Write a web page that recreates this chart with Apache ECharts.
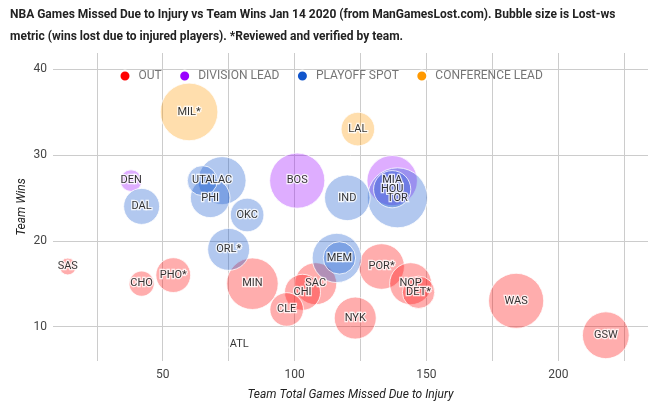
<!DOCTYPE html>
<html>
<head>
<meta charset="utf-8">
<script src="https://cdn.jsdelivr.net/npm/echarts@6/dist/echarts.min.js"></script>
<style>html,body{margin:0;padding:0;background:#fff;}#c{width:661px;height:408px;}</style>
</head>
<body>
<div id="c"></div>
<script>
// ---- data ----
const teams       = ['MIL*','LAL','DEN','DAL','UTA','LAC','PHI','OKC','ORL*','SAS','CHO','PHO*','MIN','ATL','BOS','IND','MIA','HOU','TOR','','MEM','POR*','NOP','DET*','SAC','CHI','CLE','NYK','WAS','GSW'];
const gamesMissed = [60,124,38,42,65,72.5,68,82,75,14,42,54,84,79,101,120,137,137,139,116,117,133,144,147,108,103,97,123,184,218];
const wins        = [35,33,27,24,27,27,25,23,19,17,15,16,15,8,27,25,27,26,25,18,18,17,15,14,15,14,12,11,13,9];
const lostWs      = [4.8,2.8,1.8,3.0,2.5,4.0,3.3,2.8,3.5,1.4,2.1,2.9,4.3,0.1,4.6,3.8,4.2,3.1,5.0,4.1,2.7,3.8,3.5,2.7,3.5,3.0,2.8,3.5,4.6,3.9];
const status      = ['CONFERENCE LEAD','CONFERENCE LEAD','DIVISION LEAD','PLAYOFF SPOT','PLAYOFF SPOT','PLAYOFF SPOT','PLAYOFF SPOT','PLAYOFF SPOT','PLAYOFF SPOT','OUT','OUT','OUT','OUT','OUT','DIVISION LEAD','PLAYOFF SPOT','DIVISION LEAD','PLAYOFF SPOT','PLAYOFF SPOT','PLAYOFF SPOT','PLAYOFF SPOT','OUT','OUT','OUT','OUT','OUT','OUT','OUT','OUT','OUT'];
const categories  = ['OUT','DIVISION LEAD','PLAYOFF SPOT','CONFERENCE LEAD'];
const catColors   = ['#ff0000','#9900ff','#1155cc','#ff9900'];
const bubbleFill  = ['rgba(255,0,0,0.4)','rgba(153,0,255,0.4)','rgba(17,85,204,0.4)','rgba(255,153,0,0.4)'];
const xTicks      = [25,50,75,100,125,150,175,200,225];
const xLabels     = [50,100,150,200];
const yTicks      = [10,20,30,40];

const font = 'Roboto, "Noto Sans", sans-serif';

const series = categories.map((cat, ci) => {
  const pts = [];
  teams.forEach((t, i) => {
    if (status[i] === cat) pts.push({ value: [gamesMissed[i], wins[i], lostWs[i]], name: t });
  });
  pts.sort((a, b) => b.value[2] - a.value[2]);
  return {
    name: cat,
    type: 'scatter',
    data: pts,
    symbolSize: v => 12 * v[2],
    itemStyle: { color: bubbleFill[ci], borderColor: '#ffffff', borderWidth: 1 },
    label: {
      show: true, position: 'inside', formatter: p => p.name,
      color: '#000', fontSize: 11, fontFamily: font,
      textBorderColor: '#fff', textBorderWidth: 2.5
    },
    emphasis: { disabled: true },
    animation: false
  };
});

const chart = echarts.init(document.getElementById('c'), null, { renderer: 'canvas' });
chart.setOption({
  animation: false,
  backgroundColor: '#ffffff',
  title: {
    text: 'NBA Games Missed Due to Injury vs Team Wins Jan 14 2020 (from ManGamesLost.com). Bubble size is Lost-ws\nmetric (wins lost due to injured players). *Reviewed and verified by team.',
    left: 10, top: 4, padding: 0,
    textStyle: { fontFamily: font, fontSize: 12, fontWeight: 'bold', color: '#222', lineHeight: 22 }
  },
  legend: {
    left: 118.5, top: 69.5, padding: 0,
    itemWidth: 11, itemHeight: 11, itemGap: 16.5,
    icon: 'circle',
    data: categories.map((c, i) => ({ name: c, itemStyle: { color: catColors[i], opacity: 1 } })),
    textStyle: { fontFamily: font, fontSize: 12, color: '#757575', padding: [0, 0, 0, 3] }
  },
  grid: { left: 53, top: 53, right: 13, bottom: 47, containLabel: false },
  xAxis: {
    type: 'value', min: 8.4, max: 234,
    name: 'Team Total Games Missed Due to Injury', nameLocation: 'middle', nameGap: 28,
    nameMoveOverlap: false,
    nameTextStyle: { fontFamily: font, fontSize: 12, fontStyle: 'italic', color: '#222' },
    axisLine: { show: false },
    axisTick: { show: false, customValues: xTicks },
    axisLabel: { customValues: xLabels, fontFamily: font, fontSize: 12, color: '#444', margin: 8 },
    splitLine: { show: true, lineStyle: { color: '#cccccc', width: 1 } }
  },
  yAxis: {
    type: 'value', min: 6, max: 41.86,
    name: 'Team Wins', nameLocation: 'middle', nameGap: 25,
    nameMoveOverlap: false,
    nameTextStyle: { fontFamily: font, fontSize: 12, fontStyle: 'italic', color: '#222' },
    axisLine: { show: false },
    axisTick: { show: false, customValues: yTicks },
    axisLabel: { customValues: yTicks, fontFamily: font, fontSize: 12, color: '#444', margin: 6 },
    splitLine: { show: true, lineStyle: { color: '#cccccc', width: 1 } }
  },
  series: series
});
</script>
</body>
</html>
